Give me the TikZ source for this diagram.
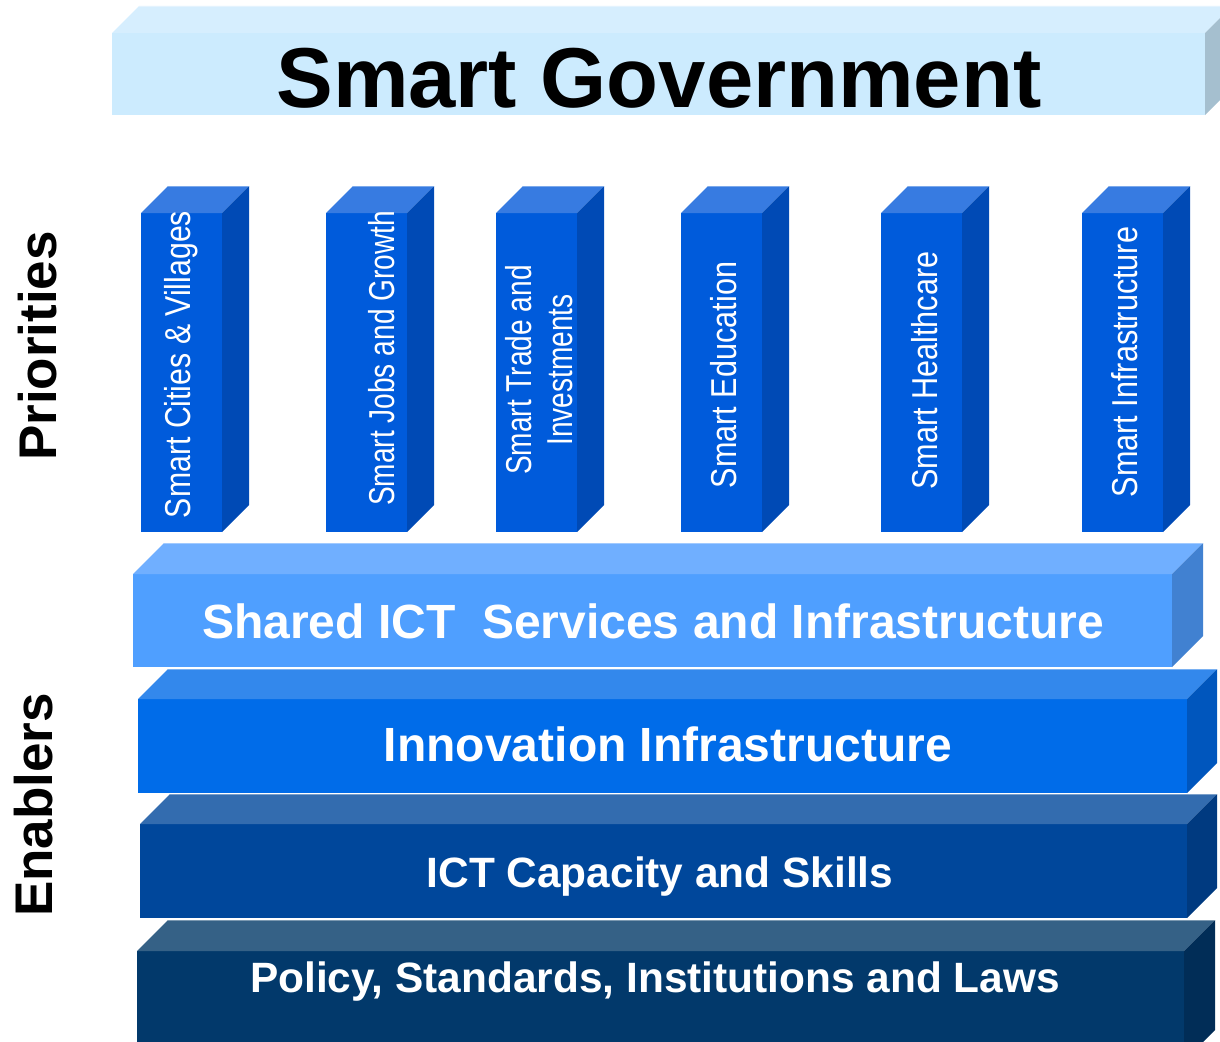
\documentclass[tikz,border=0pt]{standalone}
\usepackage{fontspec}
\usepackage{graphicx}
\setmainfont{Liberation Sans}
\definecolor{govF}{HTML}{CCEBFE}
\definecolor{govT}{HTML}{D6EEFE}
\definecolor{govS}{HTML}{A5BFCF}
\definecolor{pilF}{HTML}{005BDB}
\definecolor{pilT}{HTML}{377BE1}
\definecolor{pilS}{HTML}{004AB5}
\definecolor{shF}{HTML}{4F9FFF}
\definecolor{shT}{HTML}{70AFFF}
\definecolor{shS}{HTML}{4181D1}
\definecolor{inF}{HTML}{006CE9}
\definecolor{inT}{HTML}{3388EC}
\definecolor{inS}{HTML}{0056BD}
\definecolor{caF}{HTML}{00479B}
\definecolor{caT}{HTML}{336CAF}
\definecolor{caS}{HTML}{003A80}
\definecolor{poF}{HTML}{02396B}
\definecolor{poT}{HTML}{356186}
\definecolor{poS}{HTML}{012D57}
\tikzset{
  face/.style={inner sep=0pt, outer sep=0pt, draw=none, anchor=north west},
  slabtext/.style={inner sep=0pt, text=white, anchor=base, font=\bfseries\fontsize{#1}{#1}\selectfont},
  piltext/.style={inner sep=0pt, text=white, rotate=90, anchor=base, font=\fontsize{36}{41}\selectfont},
  sidetext/.style={inner sep=0pt, text=black, rotate=90, anchor=base, font=\bfseries\fontsize{53}{53}\selectfont}
}
\newcommand\cuboid[9]{%
  \node[face, fill=#7, minimum width=#4pt, minimum height=#5pt] (#1) at (#2,#3) {};
  \fill[#8] (#1.north west) -- ([xshift=#6pt,yshift=#6pt]#1.north west) -- ([xshift=#6pt,yshift=#6pt]#1.north east) -- (#1.north east) -- cycle;
  \fill[#9] (#1.north east) -- ([xshift=#6pt,yshift=#6pt]#1.north east) -- ([xshift=#6pt,yshift=#6pt]#1.south east) -- (#1.south east) -- cycle;
  \draw[white, draw opacity=0.35, line width=0.8pt] ([xshift=#6pt,yshift=#6pt]#1.north west) -- ([xshift=#6pt,yshift=#6pt]#1.north east);
}
\begin{document}
\begin{tikzpicture}[x=1pt,y=-1pt]
\useasboundingbox (0,0) rectangle (1220,1041);
\clip (0,0) rectangle (1220,1041);
% top bar
\cuboid{gov}{112}{33}{1093}{82}{27}{govF}{govT}{govS}
\node[inner sep=0pt, anchor=base, font=\bfseries\fontsize{85}{85}\selectfont] (govtext) at (659,107) {Smart Government};
% pillars
\cuboid{p1}{141}{213}{81}{319}{27}{pilF}{pilT}{pilS}
\cuboid{p2}{326}{213}{81}{319}{27}{pilF}{pilT}{pilS}
\cuboid{p3}{496}{213}{81}{319}{27}{pilF}{pilT}{pilS}
\cuboid{p4}{681}{213}{81}{319}{27}{pilF}{pilT}{pilS}
\cuboid{p5}{881}{213}{81}{319}{27}{pilF}{pilT}{pilS}
\cuboid{p6}{1082}{213}{81}{319}{27}{pilF}{pilT}{pilS}
\node[piltext] (t1) at (190,364.5) {\scalebox{0.84}[1]{Smart Cities \& Villages}};
\node[piltext] (t2) at (394,358.5) {\scalebox{0.78}[1]{Smart Jobs and Growth}};
\node[piltext, anchor=center, align=center] (t3) at (539.5,370) {\scalebox{0.78}[1]{Smart Trade and}\\\scalebox{0.78}[1]{Investments}};
\node[piltext] (t4) at (736,375) {\scalebox{0.85}[1]{Smart Education}};
\node[piltext] (t5) at (937,370.5) {\scalebox{0.85}[1]{Smart Healthcare}};
\node[piltext] (t6) at (1137,362) {\scalebox{0.85}[1]{Smart Infrastructure}};
% enabler slabs
\cuboid{sh}{133}{574}{1039}{93}{31}{shF}{shT}{shS}
\cuboid{in}{138}{699}{1049}{94}{30}{inF}{inT}{inS}
\cuboid{ca}{140}{824}{1047}{94}{30}{caF}{caT}{caS}
\cuboid{po}{137}{951}{1047}{110}{31}{poF}{poT}{poS}
\node[slabtext=48] (shtext) at (653,638) {Shared ICT\ \ Services and Infrastructure};
\node[slabtext=48] (intext) at (668,761) {Innovation Infrastructure};
\node[slabtext=42.4] (catext) at (660,887) {ICT Capacity and Skills};
\node[slabtext=42.4] (potext) at (655,992) {Policy, Standards, Institutions and Laws};
% side labels
\node[sidetext] (prio) at (56,346) {Priorities};
\node[sidetext] (enab) at (52,805) {Enablers};
\end{tikzpicture}
\end{document}
